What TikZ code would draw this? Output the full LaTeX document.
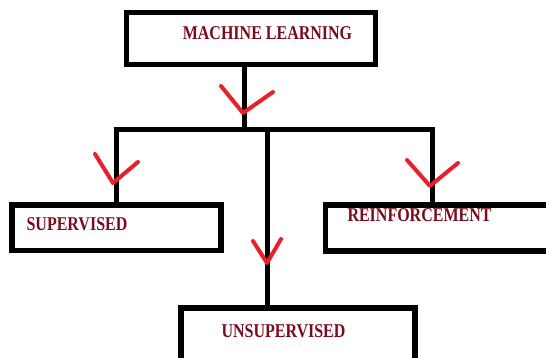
\documentclass[tikz,border=0pt]{standalone}
\usepackage{graphicx}
\usepackage{fontspec}
\setmainfont{Liberation Serif}
\definecolor{labelred}{HTML}{7A0C1E}
\definecolor{tickred}{HTML}{E8202A}
\newcommand{\boxtext}[1]{\scalebox{1}[1.22]{#1}}
\tikzset{
  box/.style={draw=black,line width=5.5pt,fill=white,inner sep=0pt},
  lbl/.style={text=labelred,font=\bfseries\fontsize{16}{18}\selectfont,inner sep=0pt},
  conn/.style={line width=5pt,black},
  tick/.style={line width=4pt,tickred,line cap=round,line join=round}
}
\begin{document}
\begin{tikzpicture}[x=1pt,y=-1pt]
  \useasboundingbox (0,0) rectangle (546,358);
  \clip (0,0) rectangle (546,358);
  \fill[white] (0,0) rectangle (546,358);
  % boxes
  \node[box,minimum width=249pt,minimum height=52pt] (ml) at (251,38.5) {};
  \node[box,minimum width=209pt,minimum height=45.5pt] (sup) at (116.5,227.75) {};
  \node[box,minimum width=240pt,minimum height=46pt] (rein) at (445.5,228) {};
  \node[box,minimum width=234pt,minimum height=60pt] (uns) at (298,338) {};
  % texts
  \node[lbl] (ml-t) at (267.5,33.5) {\boxtext{MACHINE LEARNING}};
  \node[lbl] (sup-t) at (77,224.5) {\boxtext{SUPERVISED}};
  \node[lbl] (rein-t) at (419.5,215.5) {\boxtext{REINFORCEMENT}};
  \node[lbl] (uns-t) at (283.5,331) {\boxtext{UNSUPERVISED}};
  % connectors
  \coordinate (hub) at (244,130);
  \coordinate (rtop) at (432,205);
  \coordinate (utop) at (267,308);
  \draw[conn] (hub |- ml.south) -- (hub);
  \draw[conn] (sup.north) |- (rtop |- hub) -- (rtop);
  \draw[conn] (utop |- hub) -- (utop);
  % red ticks
  \draw[tick] (221,86) -- (243,113) -- (273,92);
  \draw[tick] (95,154) -- (113,183) -- (138,162);
  \draw[tick] (407,160) -- (430,186) -- (458,163);
  \draw[tick] (253,241) -- (267,263) -- (281,239);
\end{tikzpicture}
\end{document}
